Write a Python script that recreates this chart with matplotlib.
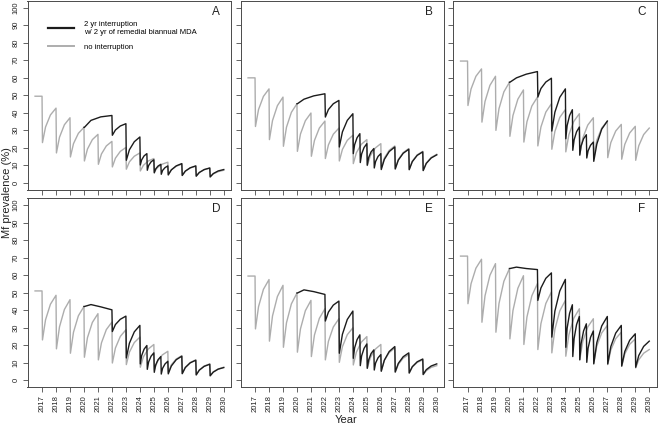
import matplotlib
matplotlib.use("Agg")
import matplotlib.pyplot as plt
from matplotlib.lines import Line2D

plt.rcParams["font.family"] = ["Liberation Sans", "DejaVu Sans"]

# MDA rounds: prevalence drops at each round, then climbs back until the next one
START = 2016.5
END = 2030
gray_rounds = [2017, 2018, 2019, 2020, 2021, 2022, 2023, 2024, 2025, 2026, 2027, 2028, 2029]
black_rounds = [2020, 2022, 2023, 2024, 2024.5, 2025, 2025.5, 2026, 2027, 2028, 2029]
year_ticks = list(range(2017, 2031))
pct_ticks = list(range(0, 101, 10))
panel_letters = ["A", "B", "C", "D", "E", "F"]

# per series: value just before each round (peak), just after (trough),
# a quarter of the way to the next round (rise1), 60% of the way (rise2), value at the end
# ---- A ----
a_gray_peak = [49.3, 42.5, 37, 31.5, 27.5, 23.5, 20, 16.9, 13.7, 11.6, 10.5, 9.3, 8.2]
a_gray_trough = [22.8, 16.9, 14.6, 12.3, 10.4, 8.9, 7.6, 6.6, 5.9, 4.7, 4.2, 3.8, 3.2]
a_gray_rise1 = [31.7, 25.9, 22.2, 19.1, 16.3, 13.9, 11.8, 9.8, 8.5, 7.3, 6.5, 5.8, 4.9]
a_gray_rise2 = [38.6, 33, 28.1, 24.5, 20.9, 17.8, 15, 12.3, 10.5, 9.3, 8.3, 7.3, 6.2]
a_gray_last = 7
a_black_peak = [31.5, 38.3, 33.6, 26, 16.5, 13, 10.4, 9.5, 10.8, 9.5, 8.3]
a_black_trough = [31.5, 27, 12.7, 10, 7, 5.5, 4.7, 4.3, 4, 3.6, 3.2]
a_black_rise1 = [35.5, 30, 18.7, 12.9, 9.7, 7.7, 6.9, 7.2, 6.5, 5.7, 5.1]
a_black_rise2 = [37.5, 32.3, 23.3, 15.2, 11.8, 9.4, 8.5, 9.5, 8.4, 7.4, 6.6]
a_black_last = 7.4
# ---- B ----
b_gray_peak = [59.8, 53.5, 48.8, 45, 39.7, 35.1, 31.1, 27, 24.5, 22.2, 20.9, 19.4, 17.8]
b_gray_trough = [32, 24.5, 20.7, 17.8, 15, 13.7, 12.3, 10.8, 9.7, 8.3, 8, 7.6, 7]
b_gray_rise1 = [41.7, 35.4, 31.6, 27.7, 24, 21.5, 18.9, 17, 15.3, 14, 13.1, 12.2, 11.1]
b_gray_rise2 = [49.2, 43.9, 40.1, 35.3, 31.1, 27.6, 24.1, 21.8, 19.7, 18.4, 17.1, 15.8, 14.3]
b_gray_last = 16.1
b_black_peak = [45, 50.7, 46.9, 39.3, 27.9, 22.2, 19.4, 16.5, 20.3, 19, 17.5]
b_black_trough = [45, 37.4, 20.3, 16.5, 11.4, 9.9, 8.3, 7.4, 7.7, 7.3, 6.8]
b_black_rise1 = [47.6, 41.7, 28.9, 21.6, 16.3, 14.2, 12, 13.2, 12.8, 11.9, 10.9]
b_black_rise2 = [49.5, 45, 35.5, 25.6, 20, 17.5, 14.9, 17.7, 16.7, 15.5, 14]
b_black_last = 15.8
# ---- C ----
c_gray_peak = [69.4, 64.9, 60.7, 57.3, 52.9, 48.8, 45, 41.7, 39.3, 37, 35.1, 33.2, 32.1]
c_gray_trough = [44, 34.5, 29.8, 26.4, 23.1, 20.9, 19, 17.5, 16.1, 15.2, 14.2, 13.3, 12.7]
c_gray_rise1 = [53.4, 46.3, 42.2, 38.3, 34.7, 31.7, 29.2, 27.3, 25.5, 24.2, 22.8, 21.8, 21]
c_gray_rise2 = [60.7, 55.5, 51.8, 47.6, 43.7, 40.2, 37.2, 34.9, 32.8, 31.1, 29.4, 28.3, 27.4]
c_gray_last = 31.1
c_black_peak = [57.3, 63.4, 59.6, 53.5, 41.6, 31.7, 27.3, 23.1]
c_black_trough = [57.3, 48.8, 29.4, 25, 18.4, 15.6, 14, 12.1]
c_black_rise1 = [59.8, 53.7, 40.2, 32.5, 24.4, 20.9, 18.1, 22]
c_black_rise2 = [61.9, 57.4, 48.7, 38.3, 29, 25, 21.3, 30.5]
c_black_last = 35.1
c_black_end = 2027
# ---- D ----
d_gray_peak = [50.9, 48.4, 45.9, 42, 37.9, 33.1, 28.7, 24.5, 20.3, 16.4, 13.9, 11.5, 9.2]
d_gray_trough = [22.9, 17.8, 15.3, 13, 11.5, 9.7, 8.8, 7.3, 5.7, 4.4, 3.8, 3, 2.5]
d_gray_rise1 = [34.4, 30.4, 27.3, 24.2, 21.2, 18.3, 15.9, 13.2, 10.5, 8.7, 7.3, 5.8, 4.7]
d_gray_rise2 = [43.3, 40.3, 36.7, 32.9, 28.8, 24.9, 21.4, 17.7, 14.3, 12, 10, 8, 6.3]
d_gray_last = 7.3
d_black_peak = [42, 40.1, 36.5, 31.2, 19.7, 15.5, 13.4, 10.7, 13.6, 11.3, 9]
d_black_trough = [42, 27.7, 12.6, 9.2, 6.1, 4.4, 3.4, 3.5, 3.6, 2.9, 2.4]
d_black_rise1 = [43.1, 31.7, 21, 13.9, 10.3, 8.5, 6.7, 8, 7.1, 5.6, 4.5]
d_black_rise2 = [41.8, 34.7, 27.5, 17.6, 13.6, 11.6, 9.2, 11.6, 9.8, 7.8, 6.2]
d_black_last = 7.1
# ---- E ----
e_gray_peak = [59.4, 57.4, 54.1, 49.7, 45.5, 40.7, 35, 29.8, 24.8, 20.3, 18.3, 14.5, 11.5]
e_gray_trough = [29.2, 22.2, 18.7, 15.9, 13.4, 11.5, 10.1, 8.6, 6.7, 5.3, 4.4, 4, 3]
e_gray_rise1 = [41.9, 36.6, 32.7, 29.2, 25.7, 22.1, 19, 15.9, 12.8, 11.2, 8.9, 7.4, 5.3]
e_gray_rise2 = [51.8, 47.7, 43.5, 39.6, 35.2, 30.3, 25.9, 21.6, 17.6, 15.7, 12.5, 10, 7.2]
e_gray_last = 8.2
e_black_peak = [49.7, 48.9, 45.1, 39.4, 25.8, 20.6, 17.2, 14.5, 19.1, 15.5, 12]
e_black_trough = [49.7, 33.7, 15.3, 12.4, 8.2, 6.7, 5.7, 5, 4.6, 4, 3.2]
e_black_rise1 = [51.5, 38.8, 26.1, 18.4, 13.8, 11.4, 9.7, 11.3, 9.5, 7.6, 5.9]
e_black_rise2 = [50.5, 42.8, 34.6, 23.1, 18.1, 15.1, 12.7, 16.3, 13.3, 10.4, 8]
e_black_last = 9.2
# ---- F ----
f_gray_peak = [70.8, 69, 66.5, 63.7, 59.6, 55.1, 50.3, 45.5, 40.7, 35, 31.2, 27.3, 23.5]
f_gray_trough = [43.6, 33, 27.3, 23.5, 20.3, 17.4, 15.5, 13.6, 11.7, 9.7, 8.8, 7.8, 6.9]
f_gray_rise1 = [55, 48.1, 43.7, 39.7, 36, 32.2, 29, 25.8, 22.2, 19.4, 17.1, 14.9, 11.6]
f_gray_rise2 = [63.9, 59.8, 56.4, 52.4, 48.1, 43.7, 39.5, 35.3, 30.3, 26.9, 23.6, 20.4, 15.3]
f_gray_last = 17.4
f_black_peak = [63.7, 63.1, 61.2, 57.5, 43, 36.3, 32.1, 28, 36.3, 31.2, 26.4]
f_black_trough = [63.7, 45.5, 24.5, 18.7, 13.4, 11.5, 10.1, 9.2, 9.2, 8, 7.3]
f_black_rise1 = [64.5, 52.6, 39.4, 29.6, 23.7, 20.8, 18.2, 21.4, 19.1, 16.3, 14]
f_black_rise2 = [63.7, 58.1, 50.9, 38.1, 31.7, 28, 24.4, 30.9, 26.8, 22.7, 19.2]
f_black_last = 22.2


def sawtooth(rounds, peak, trough, rise1, rise2, last, start=None, end=END):
    xs, ys = [], []
    if start is not None:
        xs.append(start)
        ys.append(peak[0])
    for i, t in enumerate(rounds):
        nxt = rounds[i + 1] if i + 1 < len(rounds) else end
        gap = nxt - t
        xs += [t, t + 0.03, t + 0.25 * gap, t + 0.6 * gap]
        ys += [peak[i], trough[i], rise1[i], rise2[i]]
    xs.append(end)
    ys.append(last)
    return xs, ys


gray = [
    (a_gray_peak, a_gray_trough, a_gray_rise1, a_gray_rise2, a_gray_last),
    (b_gray_peak, b_gray_trough, b_gray_rise1, b_gray_rise2, b_gray_last),
    (c_gray_peak, c_gray_trough, c_gray_rise1, c_gray_rise2, c_gray_last),
    (d_gray_peak, d_gray_trough, d_gray_rise1, d_gray_rise2, d_gray_last),
    (e_gray_peak, e_gray_trough, e_gray_rise1, e_gray_rise2, e_gray_last),
    (f_gray_peak, f_gray_trough, f_gray_rise1, f_gray_rise2, f_gray_last),
]
black = [
    (a_black_peak, a_black_trough, a_black_rise1, a_black_rise2, a_black_last, END),
    (b_black_peak, b_black_trough, b_black_rise1, b_black_rise2, b_black_last, END),
    (c_black_peak, c_black_trough, c_black_rise1, c_black_rise2, c_black_last, c_black_end),
    (d_black_peak, d_black_trough, d_black_rise1, d_black_rise2, d_black_last, END),
    (e_black_peak, e_black_trough, e_black_rise1, e_black_rise2, e_black_last, END),
    (f_black_peak, f_black_trough, f_black_rise1, f_black_rise2, f_black_last, END),
]

GRAY = "#adadad"
BLACK = "#1c1c1c"
AXC = "#4a4a4a"

W, H = 669, 432
fig = plt.figure(figsize=(W / 100, H / 100), dpi=100)
lefts = [27.5, 240.5, 453]
tops = [0.5, 198]
pw, ph = 203.8, 189

for k in range(6):
    r, c = divmod(k, 3)
    ax = fig.add_axes([lefts[c] / W, 1 - (tops[r] + ph) / H, pw / W, ph / H])
    gx, gy = sawtooth(gray_rounds, *gray[k], start=START)
    pk, tr, r1, r2, last, end = black[k]
    n = len(pk)
    bx, by = sawtooth(black_rounds[:n], pk, tr, r1, r2, last, end=end)
    ax.plot(gx, gy, color=GRAY, lw=1.0, solid_joinstyle="round")
    ax.plot(bx, by, color=BLACK, lw=1.0, solid_joinstyle="round")

    ax.set_xlim(2015.96, 2030.54)
    ax.set_ylim(-4, 104)
    ax.set_xticks(year_ticks)
    ax.set_yticks(pct_ticks)
    ax.tick_params(direction="out", length=3.5, width=0.6, color=AXC, labelsize=5.5,
                   labelcolor="#222222")
    ax.tick_params(axis="x", pad=2.5)
    ax.tick_params(axis="y", pad=2)
    for s in ax.spines.values():
        s.set_color(AXC)
        s.set_linewidth(0.7)
    if r == 1:
        ax.set_xticklabels([str(y) for y in year_ticks], rotation=90)
    else:
        ax.set_xticklabels([])
    if c == 0:
        ax.set_yticklabels([str(v) for v in pct_ticks], rotation=90, va="center")
    else:
        ax.set_yticklabels([])
    ax.text(0.925, 0.94, panel_letters[k], transform=ax.transAxes, ha="center",
            va="center", fontsize=8.5, color="#222222")

    if k == 0:
        handles = [Line2D([], [], color=BLACK, lw=1.6), Line2D([], [], color=GRAY, lw=1.4)]
        labels = ["2 yr interruption\nw/ 2 yr of remedial biannual MDA", "no interruption"]
        ax.legend(handles, labels, loc="upper left", bbox_to_anchor=(0.1, 0.893),
                  frameon=False, fontsize=5.5, handlelength=3.4, handletextpad=1.3,
                  labelspacing=1.0, borderaxespad=0, borderpad=0)

fig.text(7 / W, 1 - 193 / H, "Mf prevalence (%)", rotation=90, ha="center",
         va="center", fontsize=8, color="#222222")
fig.text(346 / W, 1 - 420 / H, "Year", ha="center", va="center", fontsize=8,
         color="#222222")

fig.savefig("out.png", dpi=100)
